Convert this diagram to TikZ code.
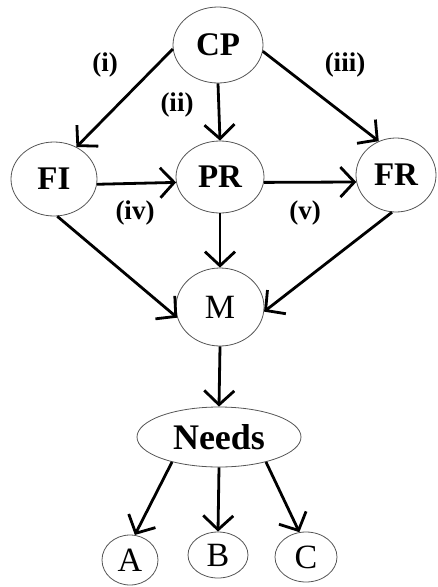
\documentclass[tikz,border=0pt]{standalone}
\usepackage{fontspec}
\setmainfont{Liberation Serif}
\usetikzlibrary{arrows.meta,positioning,shapes.geometric,calc}
\definecolor{sketchEdge}{RGB}{85, 85, 85}

\begin{document}
\begin{tikzpicture}[
  x=1pt, y=-1pt,
  oval/.style={draw=sketchEdge, ellipse, line width=0.8pt, inner sep=0pt,
               font=\fontsize{33}{33}\selectfont\bfseries},
  leaf/.style={oval, font=\fontsize{34}{34}\selectfont},
  tag/.style={font=\fontsize{27}{27}\selectfont\bfseries},
  arrow/.style={-{Straight Barb[length=14pt,width=30pt]}, line width=2.8pt}
]
\useasboundingbox (0,0) rectangle (437,587);
\node[oval, minimum width=90pt, minimum height=76pt] (cp) at (218,45) {CP};
\node[oval, minimum width=86pt, minimum height=74pt] (fi) at (54,179) {FI};
\node[oval, minimum width=88pt, minimum height=72pt] (pr) at (220,177) {PR};
\node[oval, minimum width=80pt, minimum height=74pt] (fr) at (396,175) {FR};
\node[leaf, minimum width=88pt, minimum height=78pt] (m) at (220,307) {M};
\node[oval, minimum width=164pt, minimum height=60pt,
      font=\fontsize{36}{36}\selectfont\bfseries] (needs) at (219,437) {Needs};
\node[leaf, minimum width=56pt, minimum height=50pt] (a) at (130,560) {A};
\node[leaf, minimum width=60pt, minimum height=46pt] (b) at (218,555) {B};
\node[leaf, minimum width=62pt, minimum height=50pt] (c) at (306,557) {C};

\node[tag] (lbi) at (105,65) {(i)};
\node[tag] (lbii) at (177,105) {(ii)};
\node[tag] (lbiii) at (345,65) {(iii)};
\node[tag] (lbiv) at (135,213) {(iv)};
\node[tag] (lbv) at (305,213) {(v)};

\draw[arrow] (cp.185) -- (fi.55);
\draw[arrow] (cp.south) -- (pr.north);
\draw[arrow] (cp.-8) -- (fr.117);
\draw[arrow] (fi.-7) -- (pr.187);
\draw[arrow] (pr.-7) -- (fr.190);
\draw[arrow] (fi.-85) -- (m.194);
\draw[arrow] (pr.south) -- (m.north);
\draw[arrow] (fr.-96) -- (m.-6);
\draw[arrow] (m.south) -- (needs.north);
\draw[arrow] (needs.208) -- (a.79);
\draw[arrow] (needs.south) -- (b.north);
\draw[arrow] (needs.-28) -- (c.105);
\end{tikzpicture}
\end{document}
